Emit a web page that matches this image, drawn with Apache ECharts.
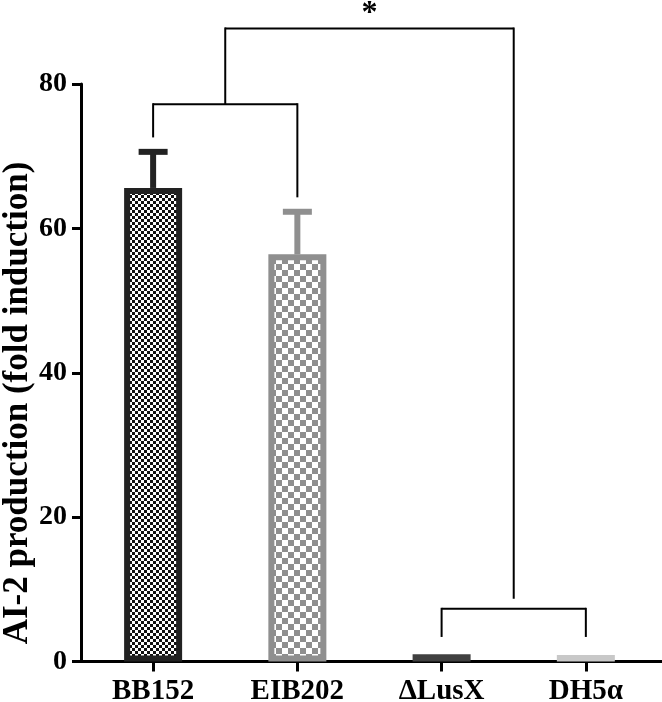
<!DOCTYPE html>
<html><head><meta charset="utf-8">
<script src="https://cdn.jsdelivr.net/npm/echarts@6/dist/echarts.min.js"></script>
<style>html,body{margin:0;padding:0;background:#fff}#c{width:662px;height:702px}</style>
</head><body><div id="c"></div>
<script>
// ---- data ----
const categories = ['BB152', 'EIB202', '\u0394LusX', 'DH5\u03b1'];
const means = [65.6, 56.4, 1.0, 0.9];
const errorTops = [70.6, 62.3, null, null];
const yTicks = [0, 20, 40, 60, 80];
const yAxisTitle = 'AI-2 production (fold induction)';
// significance brackets: category span, bar-level, leg ends
const bracketStart = [0, 0.5, 2];
const bracketEnd = [1, 2.5, 3];
const bracketLevel = [77.2, 87.7, 7.3];
const bracketLeftEnd = [72.6, 77.2, 3.4];
const bracketRightEnd = [64.3, 8.7, 3.4];
const bracketMark = ['', '*', ''];

// ---- styles ----
const FONT = '"Liberation Serif", "Times New Roman", serif';
function checker(cell, c1, c2) {
  const cv = document.createElement('canvas');
  cv.width = cv.height = cell * 2;
  const ctx = cv.getContext('2d');
  ctx.fillStyle = c2; ctx.fillRect(0, 0, cell * 2, cell * 2);
  ctx.fillStyle = c1; ctx.fillRect(0, 0, cell, cell); ctx.fillRect(cell, cell, cell, cell);
  return { image: cv, repeat: 'repeat' };
}
const barStyles = [
  { color: checker(3, '#111', '#fff'), borderColor: '#222', borderWidth: 6 },
  { color: checker(6, '#8f8f8f', '#fff'), borderColor: '#8f8f8f', borderWidth: 6 },
  { color: '#404040', borderWidth: 0 },
  { color: '#c8c8c8', borderWidth: 0 }
];
const errColors = ['#222', '#8f8f8f', '#404040', '#c8c8c8'];

const chart = echarts.init(document.getElementById('c'), null, { renderer: 'canvas' });
const tickIdx = categories.map((c, i) => i);

chart.setOption({
  animation: false,
  backgroundColor: '#fff',
  grid: { left: 81, right: 0, top: 84, bottom: 40.5, containLabel: false, outerBoundsMode: 'none' },
  xAxis: {
    type: 'value', min: -0.5, max: 3.528,
    splitLine: { show: false },
    axisLine: { show: true, onZero: false, lineStyle: { color: '#000', width: 3 } },
    axisTick: { show: true, customValues: tickIdx, length: 10, lineStyle: { color: '#000', width: 3 } },
    axisLabel: {
      customValues: tickIdx,
      formatter: v => categories[Math.round(v)],
      fontFamily: FONT, fontSize: 29, fontWeight: 'bold', color: '#000', margin: 16
    }
  },
  yAxis: {
    type: 'value', min: yTicks[0], max: yTicks[yTicks.length - 1], interval: yTicks[1] - yTicks[0],
    splitLine: { show: false },
    axisLine: { show: true, onZero: false, lineStyle: { color: '#000', width: 3 } },
    axisTick: { show: true, length: 9, lineStyle: { color: '#000', width: 3 } },
    axisLabel: { fontFamily: FONT, fontSize: 28, fontWeight: 'bold', color: '#000', margin: 14 }
  },
  graphic: [{
    type: 'text', x: 18, y: 403, rotation: Math.PI / 2,
    style: { text: yAxisTitle, font: 'bold 35px ' + FONT, textAlign: 'center', textVerticalAlign: 'middle', fill: '#000' }
  }],
  series: [
    {
      type: 'bar', barWidth: 58,
      data: means.map((v, i) => ({ value: [i, v], itemStyle: barStyles[i] }))
    },
    {
      type: 'custom', clip: false, z: 3,
      data: categories.map((c, i) => [i, means[i], errorTops[i] == null ? means[i] : errorTops[i]]),
      renderItem(params, api) {
        const i = params.dataIndex;
        if (errorTops[i] == null) return null;
        const x = api.value(0);
        const b = api.coord([x, api.value(1)]);
        const t = api.coord([x, api.value(2)]);
        const c = errColors[i];
        return {
          type: 'group', children: [
            { type: 'line', shape: { x1: b[0], y1: b[1], x2: t[0], y2: t[1] }, style: { stroke: c, lineWidth: 6 } },
            { type: 'line', shape: { x1: t[0] - 14.5, y1: t[1], x2: t[0] + 14.5, y2: t[1] }, style: { stroke: c, lineWidth: 6 } }
          ]
        };
      }
    },
    {
      type: 'custom', clip: false, z: 4,
      data: bracketStart.map((s, i) => [s, bracketLevel[i], bracketEnd[i], bracketLeftEnd[i], bracketRightEnd[i]]),
      renderItem(params, api) {
        const i = params.dataIndex;
        const x1 = api.value(0), lv = api.value(1), x2 = api.value(2);
        const p1 = api.coord([x1, api.value(3)]);
        const p2 = api.coord([x1, lv]);
        const p3 = api.coord([x2, lv]);
        const p4 = api.coord([x2, api.value(4)]);
        const st = { stroke: '#000', lineWidth: 2 };
        const children = [
          { type: 'line', shape: { x1: p1[0], y1: p1[1], x2: p2[0], y2: p2[1] - 1 }, style: st },
          { type: 'line', shape: { x1: p2[0], y1: p2[1], x2: p3[0], y2: p3[1] }, style: st },
          { type: 'line', shape: { x1: p3[0], y1: p3[1] - 1, x2: p4[0], y2: p4[1] }, style: st }
        ];
        if (bracketMark[i]) {
          const m = api.coord([(x1 + x2) / 2, lv]);
          children.push({
            type: 'text', x: m[0], y: m[1] - 15,
            style: { text: bracketMark[i], font: 'bold 32px ' + FONT, textAlign: 'center', textVerticalAlign: 'middle', fill: '#000' }
          });
        }
        return { type: 'group', children };
      }
    }
  ]
});
</script>
</body></html>
